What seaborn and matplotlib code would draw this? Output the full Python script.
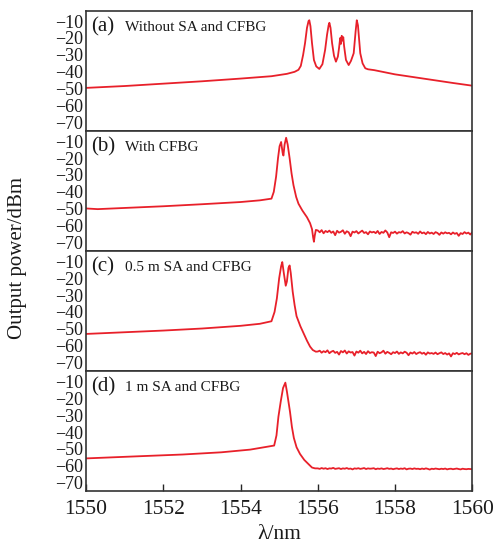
"""
Output spectra of the fiber laser under four cavity configurations,
stacked as four panels sharing the wavelength axis.
"""

import matplotlib
matplotlib.use("Agg")
import matplotlib.pyplot as plt
import numpy as np
import pandas as pd
import seaborn as sns


# ---- data (wavelength in nm, power in dBm) ----

# (a) without SA and CFBG
wl_a = [1550.0, 1551.0, 1552.0, 1553.0, 1554.0, 1554.8, 1555.2, 1555.4, 1555.5,
        1555.56, 1555.62, 1555.67, 1555.72, 1555.76, 1555.78, 1555.81, 1555.85,
        1555.90, 1555.96, 1556.04, 1556.12, 1556.19, 1556.24, 1556.28, 1556.30,
        1556.33, 1556.37, 1556.42, 1556.47, 1556.52, 1556.55, 1556.58, 1556.60,
        1556.62, 1556.64, 1556.66, 1556.68, 1556.70, 1556.73, 1556.80, 1556.86,
        1556.93, 1556.98, 1557.01, 1557.04, 1557.10, 1557.16, 1557.23, 1557.30,
        1557.46, 1558.0, 1558.5, 1559.0, 1559.5, 1560.0]
db_a = [-49.5, -48.4, -47.0, -45.6, -44.0, -42.6, -41.2, -40.0, -38.8,
        -36.5, -30.0, -23.0, -14.0, -10.0, -9.5, -13.0, -23.0,
        -33.0, -36.8, -38.3, -35.5, -27.0, -18.0, -12.5, -11.0,
        -14.0, -23.0, -30.5, -34.0, -31.0, -26.0, -20.0, -23.5,
        -18.7, -21.5, -19.5, -24.5, -28.0, -33.0, -36.0, -33.5,
        -29.0, -16.0, -9.5, -12.5, -29.0, -35.0, -37.9, -38.5,
        -39.0, -41.5, -43.2, -44.9, -46.6, -48.2]

# (b) with CFBG
wl_b = [1550.0, 1550.3, 1551.0, 1552.0, 1553.0, 1554.0, 1554.5, 1554.8,
        1554.86, 1554.92, 1554.97, 1555.01, 1555.05, 1555.09, 1555.11,
        1555.14, 1555.18, 1555.22, 1555.27, 1555.32, 1555.37, 1555.44,
        1555.50, 1555.60, 1555.72, 1555.80, 1555.85, 1555.88, 1555.90,
        1555.92, 1555.95]
db_b = [-49.8, -50.2, -49.5, -48.5, -47.3, -46.0, -45.0, -44.0,
        -40.0, -31.0, -20.0, -13.0, -10.5, -17.0, -18.5,
        -12.0, -8.0, -12.0, -20.0, -29.0, -36.0, -43.0,
        -47.0, -51.0, -55.0, -58.5, -62.0, -67.0, -69.5,
        -66.0, -62.5]
floor_b = [-62.8, -63.9, -62.6, -64.5, -63.1, -63.8, -62.9, -64.2, -63.4, -65.6,
           -63.0, -64.1, -63.6, -62.7, -64.8, -63.3, -63.9, -66.2, -63.5, -64.0,
           -63.2, -64.6, -63.7, -62.9, -64.3, -63.8, -65.1, -63.4, -64.0, -63.6,
           -64.4, -63.1, -64.9, -63.7, -64.2, -62.8, -64.0, -66.8, -63.9, -64.3,
           -63.5, -64.7, -63.8, -64.1, -63.2, -64.6, -63.9, -64.4, -65.3, -63.6,
           -64.2, -63.9, -64.8, -63.4, -64.5, -64.0, -65.0, -63.7, -64.6, -64.1,
           -64.9, -63.8, -64.3, -65.4, -64.0, -64.7, -63.9, -64.5, -64.2, -65.1,
           -64.0, -64.8, -64.3, -66.0, -64.4, -64.9, -63.8, -64.6, -64.1, -65.2,
           -63.9]

# (c) 0.5 m SA and CFBG
wl_c = [1550.0, 1551.0, 1552.0, 1553.0, 1554.0, 1554.5, 1554.8, 1554.88,
        1554.94, 1555.00, 1555.05, 1555.08, 1555.12, 1555.17, 1555.20,
        1555.24, 1555.27, 1555.30, 1555.35, 1555.40, 1555.45, 1555.55,
        1555.63, 1555.72, 1555.80, 1555.87, 1555.95]
db_c = [-53.0, -52.0, -51.0, -49.8, -48.2, -47.0, -45.5, -40.0,
        -32.0, -20.0, -13.0, -10.5, -17.0, -24.5, -22.0,
        -14.0, -12.5, -17.0, -28.0, -36.0, -42.5, -48.5,
        -52.5, -57.0, -60.5, -62.5, -63.5]
floor_c = [-63.4, -62.9, -64.1, -63.2, -63.8, -62.7, -64.4, -63.5, -63.0, -64.2,
           -63.6, -65.2, -63.1, -63.9, -62.8, -64.6, -63.3, -64.0, -63.7, -65.8,
           -63.4, -64.1, -62.9, -64.5, -63.6, -64.9, -63.2, -64.3, -63.8, -64.0,
           -66.1, -63.5, -64.4, -63.9, -62.9, -64.7, -63.6, -64.2, -65.0, -63.8,
           -64.3, -63.4, -64.8, -63.9, -64.5, -63.5, -64.1, -65.6, -64.0, -64.6,
           -63.7, -64.9, -64.2, -63.8, -64.7, -64.1, -65.3, -63.9, -64.6, -64.3,
           -64.8, -64.0, -65.0, -64.4, -63.9, -64.9, -64.3, -65.2, -64.5, -66.3,
           -64.4, -64.9, -64.2, -65.1, -64.6, -64.3, -65.0, -64.4, -65.4, -64.7,
           -64.5]

# (d) 1 m SA and CFBG
wl_d = [1550.0, 1551.4, 1552.5, 1553.5, 1554.25, 1554.87, 1554.93, 1554.98,
        1555.04, 1555.10, 1555.16, 1555.20, 1555.24, 1555.28, 1555.33,
        1555.38, 1555.45, 1555.54, 1555.65, 1555.76, 1555.85, 1555.93]
db_d = [-55.6, -54.3, -53.3, -52.0, -50.4, -48.0, -42.0, -31.0,
        -22.0, -14.0, -10.8, -16.0, -22.0, -28.0, -37.0,
        -43.5, -49.0, -53.0, -56.5, -59.0, -61.0, -61.5]
floor_d = [-61.5, -61.8, -61.3, -61.7, -61.4, -61.9, -61.5, -61.6, -61.2, -61.8,
           -61.6, -61.4, -61.9, -61.5, -61.7, -61.3, -61.8, -61.6, -62.1, -61.5,
           -61.7, -61.4, -61.8, -61.6, -61.3, -61.9, -61.5, -61.7, -61.6, -61.4,
           -62.0, -61.6, -61.8, -61.5, -61.9, -61.7, -61.4, -61.8, -61.6, -62.0,
           -61.7, -61.5, -61.9, -61.6, -61.8, -61.4, -62.1, -61.7, -61.6, -61.9,
           -61.5, -61.8, -61.7, -62.0, -61.6, -61.9, -61.5, -61.8, -62.2, -61.7,
           -61.9, -61.6, -61.8, -62.0, -61.7, -61.9, -61.6, -62.1, -61.8, -61.7,
           -62.0, -61.8, -61.6, -61.9, -62.1, -61.7, -61.9, -62.0, -61.8, -61.9,
           -61.9]

floor_wl = np.linspace(1556.0, 1560.0, 81)

PANELS = [
    ("(a)", "Without SA and CFBG", wl_a, db_a, None),
    ("(b)", "With CFBG", wl_b, db_b, floor_b),
    ("(c)", "0.5 m SA and CFBG", wl_c, db_c, floor_c),
    ("(d)", "1 m SA and CFBG", wl_d, db_d, floor_d),
]

X_TICKS = [1550, 1552, 1554, 1556, 1558, 1560]
Y_TICKS = [-10, -20, -30, -40, -50, -60, -70]

LINE_COLOR = "#e8202a"
TEXT_COLOR = "#1a1a1a"


def panel_frame(wl, db, floor):
    df = pd.DataFrame({"wavelength": wl, "power": db})
    if floor is not None:
        df = pd.concat([df, pd.DataFrame({"wavelength": floor_wl, "power": floor})],
                       ignore_index=True)
    return df


sns.set_theme(style="ticks")
plt.rcParams["font.family"] = ["Liberation Serif", "DejaVu Serif"]
plt.rcParams["axes.unicode_minus"] = True

fig, axes = plt.subplots(4, 1, figsize=(4.95, 5.47), dpi=100, sharex=True)
fig.subplots_adjust(left=0.174, right=0.954, top=0.980, bottom=0.102, hspace=0)

for ax, (tag, desc, wl, db, floor) in zip(axes, PANELS):
    df = panel_frame(wl, db, floor)
    sns.lineplot(data=df, x="wavelength", y="power", ax=ax,
                 color=LINE_COLOR, lw=1.3, estimator=None)
    ax.set_xlim(1550, 1560)
    ax.set_ylim(-75, -4)
    ax.set_yticks(Y_TICKS)
    ax.tick_params(axis="y", length=0, pad=2, labelsize=13,
                   labelcolor=TEXT_COLOR)
    ax.tick_params(axis="x", direction="in", length=5, width=1, labelsize=15.5,
                   pad=6, top=False, labelcolor=TEXT_COLOR)
    for sp in ax.spines.values():
        sp.set_visible(True)
        sp.set_linewidth(1.2)
        sp.set_color("#333333")
    ax.set_xlabel("")
    ax.set_ylabel("")
    ax.text(0.012, 0.865, tag, transform=ax.transAxes, fontsize=15,
            va="center", ha="left", color=TEXT_COLOR)
    ax.text(0.100, 0.86, desc, transform=ax.transAxes, fontsize=11,
            va="center", ha="left", color=TEXT_COLOR)

for ax in axes[:-1]:
    ax.tick_params(axis="x", length=0, labelbottom=False)

axes[-1].set_xticks(X_TICKS)
axes[-1].set_xlabel("λ/nm", fontsize=15.5, labelpad=5, color=TEXT_COLOR)
fig.text(0.036, 0.528, "Output power/dBm", rotation=90, fontsize=15,
         va="center", ha="center", color=TEXT_COLOR)

fig.savefig("out.png", dpi=100)
